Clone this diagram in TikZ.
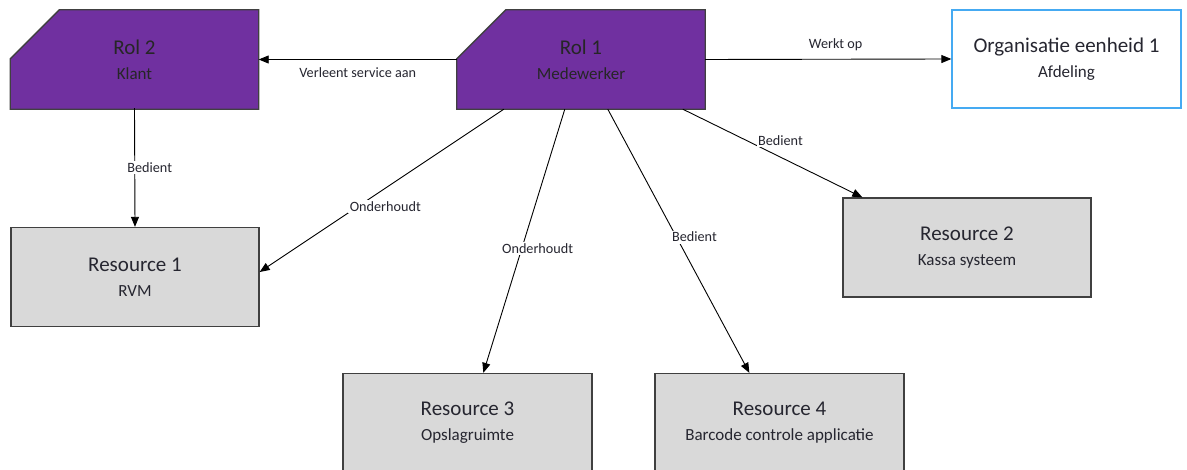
\documentclass[tikz,border=0pt]{standalone}
\usepackage{fontspec}
\setmainfont{Carlito}
\usetikzlibrary{arrows.meta,backgrounds}
\definecolor{rolpurple}{HTML}{7030A0}
\definecolor{resgray}{HTML}{D9D9D9}
\definecolor{orgblue}{HTML}{45AAF2}
\definecolor{edgegray}{HTML}{404040}
\definecolor{txt}{HTML}{262630}
\tikzset{
  box/.style={minimum width=248pt, minimum height=99pt, inner sep=0pt, align=center, text=txt, font=\fontsize{17}{25}\selectfont},
  resbox/.style={box, draw=edgegray, line width=1.3pt, fill=resgray},
  orgbox/.style={box, draw=orgblue, line width=1.3pt, fill=white, minimum width=229pt, minimum height=98pt},
  rolbox/.style={box, text=black!85},
  rolshape/.style={fill=rolpurple, draw=edgegray, line width=1.3pt, line join=miter},
  conn/.style={draw=black, line width=0.9pt, -{Triangle[length=10pt,width=8pt]}},
  lbl/.style={fill=white, inner sep=1.5pt, text=txt, font=\fontsize{14.2}{16}\selectfont},
}
\newcommand{\ttl}[1]{{\fontsize{21}{25}\selectfont #1}}
\begin{document}
\begin{tikzpicture}[x=1pt, y=-1pt]
\useasboundingbox (0,0) rectangle (1187,470);
\begin{scope}[on background layer]
\fill[white] (0,0) rectangle (1187,470);
\end{scope}
\clip (0,0) rectangle (1187,470);

% nodes
\node[rolbox] (rol2) at (134.5,59.5) {\ttl{Rol 2}\\Klant};
\node[rolbox] (rol1) at (581,59.5) {\ttl{Rol 1}\\Medewerker};
\node[orgbox] (org) at (1066.5,59) {\ttl{Organisatie eenheid 1}\\Afdeling};
\node[resbox] (res1) at (135,277) {\ttl{Resource 1}\\RVM};
\node[resbox] (res2) at (967,247.5) {\ttl{Resource 2}\\Kassa systeem};
\node[resbox, minimum width=249pt] (res3) at (467.5,423) {\ttl{Resource 3}\\Opslagruimte};
\node[resbox, minimum width=249pt] (res4) at (779.5,423) {\ttl{Resource 4}\\Barcode controle applicatie};

% chamfered purple shapes
\begin{scope}[on background layer]
\filldraw[rolshape] ([xshift=49pt]rol2.north west) -- (rol2.north east) -- (rol2.south east) -- (rol2.south west) -- ([yshift=-49pt]rol2.north west) -- cycle;
\filldraw[rolshape] ([xshift=49pt]rol1.north west) -- (rol1.north east) -- (rol1.south east) -- (rol1.south west) -- ([yshift=-49pt]rol1.north west) -- cycle;
\end{scope}

% connectors
\draw[conn] (rol1.west) -- (rol2.east) node[midway, below=6pt, lbl, fill=none] (l1) {Verleent service aan};
\draw[conn] (rol1.east) -- (org.west) node[pos=0.53, above=6pt, lbl, fill=none] (l2) {Werkt op};
\draw[conn] ([yshift=1pt]rol2.south) -- (res1.north) node[pos=0.5, xshift=15pt, lbl] (l3) {Bedient};
\draw[conn] ([xshift=47pt]rol1.south west) -- ([yshift=5pt]res1.east) node[pos=0.6, xshift=28pt, lbl] (l4) {Onderhoudt};
\draw[conn] ([xshift=108pt]rol1.south west) -- ([xshift=141pt]res3.north west) node[pos=0.53, xshift=16pt, lbl] (l5) {Onderhoudt};
\draw[conn] ([xshift=151pt]rol1.south west) -- ([xshift=95pt]res4.north west) node[pos=0.485, xshift=18pt, lbl] (l6) {Bedient};
\draw[conn] ([xshift=226pt]rol1.south west) -- ([xshift=20pt]res2.north west) node[pos=0.36, xshift=33pt, lbl] (l7) {Bedient};
\end{tikzpicture}
\end{document}
